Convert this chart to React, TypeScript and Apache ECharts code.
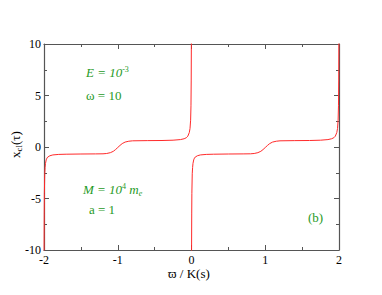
import React, { useEffect, useRef } from "react";
import * as echarts from "echarts";

// x values (ϖ / K(s)) and x_cl(τ), left branch (-2..0)
const xLeft = [-2.0, -1.999, -1.997, -1.995, -1.99, -1.985, -1.98, -1.97, -1.96, -1.95, -1.92, -1.88, -1.8, -1.7, -1.5, -1.3, -1.2, -1.15, -1.1, -1.06, -1.03, -1.0, -0.97, -0.94, -0.9, -0.85, -0.8, -0.6, -0.4, -0.25, -0.15, -0.1, -0.07, -0.05, -0.03, -0.02, -0.012, -0.007, -0.004, -0.002, -0.001];
const yLeft = [-12, -10, -6.5, -4.5, -2.6, -2.0, -1.6, -1.25, -1.08, -0.98, -0.85, -0.77, -0.72, -0.7, -0.68, -0.67, -0.66, -0.63, -0.55, -0.42, -0.25, -0.05, 0.15, 0.33, 0.48, 0.56, 0.6, 0.62, 0.63, 0.66, 0.72, 0.8, 0.9, 1.05, 1.4, 1.8, 2.6, 4.0, 6.5, 10, 12];
// right branch (0..2)
const xRight = [0.0, 0.001, 0.003, 0.005, 0.01, 0.015, 0.02, 0.03, 0.04, 0.05, 0.08, 0.12, 0.2, 0.3, 0.5, 0.7, 0.8, 0.85, 0.9, 0.94, 0.97, 1.0, 1.03, 1.06, 1.1, 1.15, 1.2, 1.4, 1.6, 1.75, 1.85, 1.9, 1.93, 1.95, 1.97, 1.98, 1.988, 1.993, 1.996, 1.998, 1.999];
const yRight = [-12, -10, -6.5, -4.5, -2.6, -2.0, -1.6, -1.25, -1.08, -0.98, -0.85, -0.77, -0.72, -0.7, -0.68, -0.67, -0.66, -0.63, -0.55, -0.42, -0.25, -0.05, 0.15, 0.33, 0.48, 0.56, 0.6, 0.62, 0.63, 0.66, 0.72, 0.8, 0.9, 1.05, 1.4, 1.8, 2.6, 4.0, 6.5, 10, 12];

const xTicks = [-2, -1, 0, 1, 2];
const yTicks = [-10, -5, 0, 5, 10];

const SERIF = "Liberation Serif";
const GREEN = "#1f9a1f";
const AXIS = "#555";

function txt(text: string, extra: any = {}) {
  return { text, fill: GREEN, fontFamily: SERIF, fontSize: 13, ...extra };
}

export default function App() {
  const ref = useRef<HTMLDivElement>(null);
  useEffect(() => {
    if (!ref.current) return;
    const chart = echarts.init(ref.current, undefined, { renderer: "svg" });
    const axisCommon = {
      axisLine: { show: true, onZero: false, lineStyle: { color: AXIS, width: 1.2 } },
      axisTick: { show: true, inside: true, length: 5, lineStyle: { color: AXIS } },
      minorTick: { show: true, splitNumber: 2, length: 3, lineStyle: { color: AXIS } },
      splitLine: { show: false },
    };
    const labelStyle = { color: "#000", fontFamily: SERIF, fontSize: 12 };
    const sup = { fontSize: 8, fontFamily: SERIF, verticalAlign: "top", padding: [0, 0, 7, 0], fill: GREEN };
    const sub = { fontSize: 8, fontFamily: SERIF, verticalAlign: "bottom", padding: [6, 0, 0, 0], fill: GREEN };
    chart.setOption({
      animation: false,
      backgroundColor: "#fff",
      grid: { left: 44, right: 43, top: 44, bottom: 45, containLabel: false },
      xAxis: [
        {
          type: "value", min: -2, max: 2, interval: 1, position: "bottom",
          ...axisCommon,
          axisLabel: { ...labelStyle, margin: 4, formatter: (v: number) => (xTicks.includes(v) ? String(v) : "") },
        },
        {
          type: "value", min: -2, max: 2, interval: 1, position: "top",
          ...axisCommon,
          axisLabel: { show: false },
        },
      ],
      yAxis: [
        {
          type: "value", min: -10, max: 10, interval: 5, position: "left",
          ...axisCommon,
          axisLabel: { ...labelStyle, margin: 3, formatter: (v: number) => (yTicks.includes(v) ? String(v) : "") },
        },
        {
          type: "value", min: -10, max: 10, interval: 5, position: "right",
          ...axisCommon,
          axisLabel: { show: false },
        },
      ],
      series: [
        {
          type: "line", showSymbol: false, clip: true, smooth: false,
          data: xLeft.map((x, i) => [x, yLeft[i]]),
          lineStyle: { color: "#ff2a2a", width: 1 },
        },
        {
          type: "line", showSymbol: false, clip: true, smooth: false,
          data: xRight.map((x, i) => [x, yRight[i]]),
          lineStyle: { color: "#ff2a2a", width: 1 },
        },
      ],
      graphic: [
        {
          type: "text", x: 168, y: 267,
          style: { text: "ϖ / K(s)", fill: "#000", fontFamily: SERIF, fontSize: 13 },
        },
        {
          type: "text", x: 8, y: 158, rotation: Math.PI / 2,
          style: {
            text: "x{s|cl}(τ)", fill: "#000", fontFamily: SERIF, fontSize: 13,
            rich: { s: { fontSize: 9, fontFamily: SERIF, verticalAlign: "bottom", padding: [6, 0, 0, 0], fill: "#000" } },
          },
        },
        {
          type: "text", x: 86, y: 65,
          style: txt("{i|E = 10}{sup|-3}", { rich: { i: { fontStyle: "italic", fontSize: 13, fontFamily: SERIF, fill: GREEN }, sup } }),
        },
        { type: "text", x: 86, y: 89, style: txt("ω = 10") },
        {
          type: "text", x: 83, y: 182,
          style: txt("{i|M = 10}{sup|4}{i| m}{sub|e}", {
            rich: {
              i: { fontStyle: "italic", fontSize: 13, fontFamily: SERIF, fill: GREEN },
              sup, sub: { ...sub, fontStyle: "italic" },
            },
          }),
        },
        { type: "text", x: 89, y: 203, style: txt("a = 1") },
        { type: "text", x: 308, y: 211, style: txt("(b)") },
      ],
    });
    return () => chart.dispose();
  }, []);
  return <div ref={ref} style={{ width: 382, height: 295, position: "absolute", left: 0, top: 0 }} />;
}
